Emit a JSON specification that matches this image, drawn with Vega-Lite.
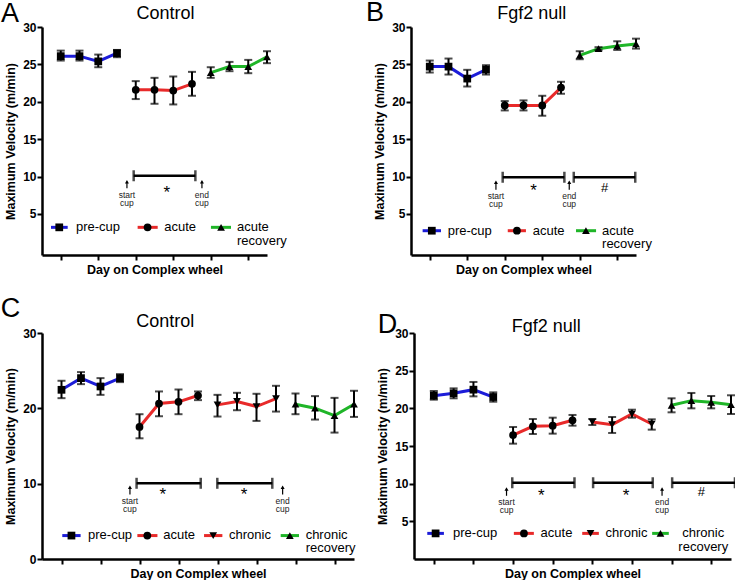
{
"$schema":"https://vega.github.io/schema/vega-lite/v6.json",
"padding":{"left":0,"top":-2,"right":0,"bottom":0},
"background":"white",
"config":{"view":{"stroke":null},"font":"Liberation Sans",
 "axis":{"domainColor":"black","domainWidth":2.5,"tickColor":"black","tickWidth":2,"tickSize":5,"labelColor":"black","titleColor":"black","labelFont":"Liberation Sans","titleFont":"Liberation Sans","labelFontWeight":"bold","titleFontWeight":"bold","labelFontSize":12,"titleFontSize":12.5,"grid":false,"labelPadding":1}},
"datasets":{
"pts":[
{"p":"A","s":"pre-cup","d":1,"v":26.1,"lo":25.51,"hi":26.84},
{"p":"A","s":"pre-cup","d":2,"v":26.1,"lo":25.51,"hi":26.84},
{"p":"A","s":"pre-cup","d":3,"v":25.4,"lo":24.62,"hi":26.31},
{"p":"A","s":"pre-cup","d":4,"v":26.5,"lo":25.96,"hi":26.93},
{"p":"A","s":"acute","d":5,"v":21.6,"lo":20.36,"hi":22.76},
{"p":"A","s":"acute","d":6,"v":21.6,"lo":19.73,"hi":23.2},
{"p":"A","s":"acute","d":7,"v":21.5,"lo":19.64,"hi":23.38},
{"p":"A","s":"acute","d":8,"v":22.4,"lo":20.8,"hi":24.0},
{"p":"A","s":"recovery","d":9,"v":23.9,"lo":23.2,"hi":24.62},
{"p":"A","s":"recovery","d":10,"v":24.7,"lo":24.09,"hi":25.33},
{"p":"A","s":"recovery","d":11,"v":24.7,"lo":23.82,"hi":25.6},
{"p":"A","s":"recovery","d":12,"v":26.0,"lo":25.16,"hi":26.76},
{"p":"B","s":"pre-cup","d":1,"v":24.7,"lo":23.91,"hi":25.51},
{"p":"B","s":"pre-cup","d":2,"v":24.7,"lo":23.64,"hi":25.78},
{"p":"B","s":"pre-cup","d":3,"v":23.1,"lo":22.04,"hi":24.27},
{"p":"B","s":"pre-cup","d":4,"v":24.3,"lo":23.64,"hi":24.89},
{"p":"B","s":"acute","d":5,"v":19.5,"lo":18.84,"hi":20.09},
{"p":"B","s":"acute","d":6,"v":19.5,"lo":18.84,"hi":20.18},
{"p":"B","s":"acute","d":7,"v":19.5,"lo":18.13,"hi":20.8},
{"p":"B","s":"acute","d":8,"v":21.9,"lo":21.07,"hi":22.67},
{"p":"B","s":"recovery","d":9,"v":26.2,"lo":25.69,"hi":26.76},
{"p":"B","s":"recovery","d":10,"v":27.1,"lo":26.9,"hi":27.3},
{"p":"B","s":"recovery","d":11,"v":27.47,"lo":26.93,"hi":28.09},
{"p":"B","s":"recovery","d":12,"v":27.73,"lo":27.11,"hi":28.44},
{"p":"C","s":"pre-cup","d":1,"v":22.46,"lo":21.35,"hi":23.66},
{"p":"C","s":"pre-cup","d":2,"v":24.01,"lo":23.21,"hi":24.81},
{"p":"C","s":"pre-cup","d":3,"v":22.9,"lo":21.79,"hi":24.01},
{"p":"C","s":"pre-cup","d":4,"v":24.01,"lo":23.48,"hi":24.54},
{"p":"C","s":"acute","d":5,"v":17.53,"lo":16.02,"hi":19.22},
{"p":"C","s":"acute","d":6,"v":20.64,"lo":18.95,"hi":22.24},
{"p":"C","s":"acute","d":7,"v":20.86,"lo":19.22,"hi":22.5},
{"p":"C","s":"acute","d":8,"v":21.7,"lo":21.09,"hi":22.24},
{"p":"C","s":"chronic","d":9,"v":20.46,"lo":18.91,"hi":21.79},
{"p":"C","s":"chronic","d":10,"v":20.91,"lo":19.75,"hi":22.06},
{"p":"C","s":"chronic","d":11,"v":20.24,"lo":18.33,"hi":21.93},
{"p":"C","s":"chronic","d":12,"v":21.3,"lo":19.57,"hi":22.99},
{"p":"C","s":"recovery","d":13,"v":20.55,"lo":19.22,"hi":21.97},
{"p":"C","s":"recovery","d":14,"v":20.02,"lo":18.51,"hi":21.62},
{"p":"C","s":"recovery","d":15,"v":19.04,"lo":16.78,"hi":21.39},
{"p":"C","s":"recovery","d":16,"v":20.55,"lo":18.86,"hi":22.33},
{"p":"D","s":"pre-cup","d":1,"v":21.68,"lo":21.15,"hi":22.3},
{"p":"D","s":"pre-cup","d":2,"v":21.99,"lo":21.33,"hi":22.65},
{"p":"D","s":"pre-cup","d":3,"v":22.48,"lo":21.59,"hi":23.5},
{"p":"D","s":"pre-cup","d":4,"v":21.5,"lo":20.88,"hi":22.12},
{"p":"D","s":"acute","d":5,"v":16.46,"lo":15.31,"hi":17.52},
{"p":"D","s":"acute","d":6,"v":17.61,"lo":16.59,"hi":18.58},
{"p":"D","s":"acute","d":7,"v":17.7,"lo":16.64,"hi":18.76},
{"p":"D","s":"acute","d":8,"v":18.41,"lo":17.7,"hi":19.12},
{"p":"D","s":"chronic","d":9,"v":18.19,"lo":17.79,"hi":18.58},
{"p":"D","s":"chronic","d":10,"v":17.83,"lo":16.73,"hi":18.85},
{"p":"D","s":"chronic","d":11,"v":19.25,"lo":18.76,"hi":19.82},
{"p":"D","s":"chronic","d":12,"v":17.92,"lo":17.17,"hi":18.54},
{"p":"D","s":"recovery","d":13,"v":20.4,"lo":19.47,"hi":21.33},
{"p":"D","s":"recovery","d":14,"v":21.02,"lo":20.0,"hi":22.04},
{"p":"D","s":"recovery","d":15,"v":20.8,"lo":20.0,"hi":21.64},
{"p":"D","s":"recovery","d":16,"v":20.49,"lo":19.25,"hi":21.73}
],
"brk":[
{"p":"A","x1":4.89,"x2":8.18,"y":10.1},
{"p":"B","x1":4.89,"x2":8.18,"y":9.9},
{"p":"B","x1":8.68,"x2":11.96,"y":9.9},
{"p":"C","x1":4.85,"x2":8.14,"y":10.05},
{"p":"C","x1":8.99,"x2":11.81,"y":10.05},
{"p":"D","x1":4.96,"x2":8.1,"y":10.12},
{"p":"D","x1":9.04,"x2":12.05,"y":10.12},
{"p":"D","x1":13.03,"x2":16.2,"y":10.12}
],
"arr":[
{"p":"A","x":4.53,"y1":9.3,"y2":8.42},
{"p":"A","x":8.53,"y1":9.3,"y2":8.42},
{"p":"B","x":4.53,"y1":9.22,"y2":8.24},
{"p":"B","x":8.44,"y1":9.22,"y2":8.24},
{"p":"C","x":4.51,"y1":9.52,"y2":8.55},
{"p":"C","x":12.34,"y1":9.52,"y2":8.55},
{"p":"D","x":4.67,"y1":9.28,"y2":8.39},
{"p":"D","x":12.52,"y1":9.28,"y2":8.39}
],
"leg":[
{"p":"A","s":"pre-cup","x1":0.48,"x2":1.37,"xm":0.92,"y":3.2},
{"p":"A","s":"acute","x1":5.1,"x2":6.17,"xm":5.63,"y":3.2},
{"p":"A","s":"recovery","x1":9.01,"x2":10.08,"xm":9.55,"y":3.2},
{"p":"B","s":"pre-cup","x1":0.62,"x2":1.6,"xm":1.11,"y":2.75},
{"p":"B","s":"acute","x1":5.16,"x2":6.13,"xm":5.65,"y":2.75},
{"p":"B","s":"recovery","x1":8.8,"x2":9.87,"xm":9.33,"y":2.75},
{"p":"C","s":"pre-cup","x1":1.04,"x2":1.98,"xm":1.51,"y":3.11},
{"p":"C","s":"acute","x1":4.89,"x2":5.92,"xm":5.4,"y":3.11},
{"p":"C","s":"chronic","x1":8.31,"x2":9.25,"xm":8.78,"y":3.11},
{"p":"C","s":"recovery","x1":12.24,"x2":13.18,"xm":12.71,"y":3.11},
{"p":"D","s":"pre-cup","x1":0.67,"x2":1.51,"xm":1.09,"y":3.4},
{"p":"D","s":"acute","x1":5.04,"x2":6.05,"xm":5.55,"y":3.4},
{"p":"D","s":"chronic","x1":8.49,"x2":9.33,"xm":8.91,"y":3.4},
{"p":"D","s":"recovery","x1":12.02,"x2":12.86,"xm":12.44,"y":3.4}
],
"txt":[
{"p":"A","k":"letter","t":"A","x":-2.19,"y":30.67},
{"p":"A","k":"title","t":"Control","x":6.59,"y":31.07},
{"p":"A","k":"star","t":"*","x":6.65,"y":7.18},
{"p":"A","k":"note","t":"start","x":4.53,"y":7.06},
{"p":"A","k":"note","t":"cup","x":4.53,"y":6.0},
{"p":"A","k":"note","t":"end","x":8.53,"y":7.06},
{"p":"A","k":"note","t":"cup","x":8.53,"y":6.0},
{"p":"A","k":"leg","t":"pre-cup","x":1.81,"y":2.7},
{"p":"A","k":"leg","t":"acute","x":6.52,"y":2.7},
{"p":"A","k":"leg","t":"acute","x":10.4,"y":2.7},
{"p":"A","k":"leg","t":"recovery","x":10.4,"y":0.9},
{"p":"B","k":"letter","t":"B","x":-2.4,"y":30.84},
{"p":"B","k":"title","t":"Fgf2 null","x":6.44,"y":31.03},
{"p":"B","k":"star","t":"*","x":6.54,"y":7.36},
{"p":"B","k":"hash","t":"#","x":10.33,"y":7.89},
{"p":"B","k":"note","t":"start","x":4.53,"y":6.99},
{"p":"B","k":"note","t":"cup","x":4.53,"y":5.88},
{"p":"B","k":"note","t":"end","x":8.44,"y":6.99},
{"p":"B","k":"note","t":"cup","x":8.44,"y":5.88},
{"p":"B","k":"leg","t":"pre-cup","x":1.96,"y":2.17},
{"p":"B","k":"leg","t":"acute","x":6.49,"y":2.17},
{"p":"B","k":"leg","t":"acute","x":10.19,"y":2.17},
{"p":"B","k":"leg","t":"recovery","x":10.19,"y":0.39},
{"p":"C","k":"letter","t":"C","x":-2.12,"y":32.19},
{"p":"C","k":"title","t":"Control","x":6.32,"y":30.86},
{"p":"C","k":"star","t":"*","x":6.2,"y":7.77},
{"p":"C","k":"star","t":"*","x":10.36,"y":7.77},
{"p":"C","k":"note","t":"start","x":4.51,"y":7.31},
{"p":"C","k":"note","t":"cup","x":4.51,"y":6.2},
{"p":"C","k":"note","t":"end","x":12.34,"y":7.31},
{"p":"C","k":"note","t":"cup","x":12.34,"y":6.2},
{"p":"C","k":"leg","t":"pre-cup","x":2.36,"y":2.62},
{"p":"C","k":"leg","t":"acute","x":6.22,"y":2.62},
{"p":"C","k":"leg","t":"chronic","x":9.59,"y":2.62},
{"p":"C","k":"leg","t":"chronic","x":13.52,"y":2.62},
{"p":"C","k":"leg","t":"recovery","x":13.52,"y":0.89},
{"p":"D","k":"letter","t":"D","x":-1.83,"y":29.96},
{"p":"D","k":"title","t":"Fgf2 null","x":6.67,"y":30.17},
{"p":"D","k":"star","t":"*","x":6.42,"y":7.66},
{"p":"D","k":"star","t":"*","x":10.7,"y":7.66},
{"p":"D","k":"hash","t":"#","x":14.5,"y":8.35},
{"p":"D","k":"note","t":"start","x":4.67,"y":7.16},
{"p":"D","k":"note","t":"cup","x":4.67,"y":6.05},
{"p":"D","k":"note","t":"end","x":12.52,"y":7.16},
{"p":"D","k":"note","t":"cup","x":12.52,"y":6.05},
{"p":"D","k":"leg","t":"pre-cup","x":1.97,"y":2.87},
{"p":"D","k":"leg","t":"acute","x":6.39,"y":2.87},
{"p":"D","k":"leg","t":"chronic","x":9.67,"y":2.87},
{"p":"D","k":"legmid","t":"chronic","x":14.6,"y":2.87},
{"p":"D","k":"legmid","t":"recovery","x":14.6,"y":1.09}
]
},
"spacing":18,
"bounds":"full",
"vconcat":[
{"hconcat":[
{"width":225,"height":228,"layer":[
{"data":{"name":"pts"},"transform":[{"filter":"datum.p==='A'"}],"mark":{"type":"line","strokeWidth":3},
 "encoding":{"x":{"field":"d","type":"quantitative","scale":{"domain":[0,12],"nice":false,"zero":false},"axis":{"values":[1,2,3,4,5,6,7,8,9,10,11,12],"labels":false,"title":"Day on Complex wheel","titlePadding":2}},
 "y":{"field":"v","type":"quantitative","scale":{"domain":[-0.5,30],"nice":false,"zero":false},"axis":{"values":[5,10,15,20,25,30],"title":"Maximum Velocity (m/min)","titlePadding":5}},
 "color":{"field":"s","type":"nominal","scale":{"domain":["pre-cup","acute","chronic","recovery"],"range":["#1c1cd8","#e82a2a","#e82a2a","#1fb528"]},"legend":null}}},
{"data":{"name":"pts"},"transform":[{"filter":"datum.p==='A'"}],"mark":{"type":"rule","color":"black","strokeWidth":2},"encoding":{"x":{"field":"d","type":"quantitative"},"y":{"field":"lo","type":"quantitative"},"y2":{"field":"hi"}}},
{"data":{"name":"pts"},"transform":[{"filter":"datum.p==='A'"}],"mark":{"type":"tick","orient":"horizontal","color":"black","size":8,"thickness":2},"encoding":{"x":{"field":"d","type":"quantitative"},"y":{"field":"lo","type":"quantitative"}}},
{"data":{"name":"pts"},"transform":[{"filter":"datum.p==='A'"}],"mark":{"type":"tick","orient":"horizontal","color":"black","size":8,"thickness":2},"encoding":{"x":{"field":"d","type":"quantitative"},"y":{"field":"hi","type":"quantitative"}}},
{"data":{"name":"pts"},"transform":[{"filter":"datum.p==='A'"}],"mark":{"type":"point","filled":true,"color":"black","opacity":1,"size":60},"encoding":{"x":{"field":"d","type":"quantitative"},"y":{"field":"v","type":"quantitative"},"shape":{"field":"s","type":"nominal","scale":{"domain":["pre-cup","acute","chronic","recovery"],"range":["square","circle","triangle-down","triangle-up"]},"legend":null}}},
{"data":{"name":"brk"},"transform":[{"filter":"datum.p==='A'"}],"mark":{"type":"rule","color":"black","strokeWidth":2.5},"encoding":{"x":{"field":"x1","type":"quantitative"},"x2":{"field":"x2"},"y":{"field":"y","type":"quantitative"}}},
{"data":{"name":"brk"},"transform":[{"filter":"datum.p==='A'"}],"mark":{"type":"tick","orient":"vertical","color":"black","size":11,"thickness":2.5},"encoding":{"x":{"field":"x1","type":"quantitative"},"y":{"field":"y","type":"quantitative"}}},
{"data":{"name":"brk"},"transform":[{"filter":"datum.p==='A'"}],"mark":{"type":"tick","orient":"vertical","color":"black","size":11,"thickness":2.5},"encoding":{"x":{"field":"x2","type":"quantitative"},"y":{"field":"y","type":"quantitative"}}},
{"data":{"name":"arr"},"transform":[{"filter":"datum.p==='A'"}],"mark":{"type":"rule","color":"black","strokeWidth":1.2},"encoding":{"x":{"field":"x","type":"quantitative"},"y":{"field":"y1","type":"quantitative"},"y2":{"field":"y2"}}},
{"data":{"name":"arr"},"transform":[{"filter":"datum.p==='A'"}],"mark":{"type":"point","shape":"triangle-up","filled":true,"color":"black","opacity":1,"size":16},"encoding":{"x":{"field":"x","type":"quantitative"},"y":{"field":"y1","type":"quantitative"}}},
{"data":{"name":"leg"},"transform":[{"filter":"datum.p==='A'"}],"mark":{"type":"rule","strokeWidth":3},"encoding":{"x":{"field":"x1","type":"quantitative"},"x2":{"field":"x2"},"y":{"field":"y","type":"quantitative"},"color":{"field":"s","type":"nominal"}}},
{"data":{"name":"leg"},"transform":[{"filter":"datum.p==='A'"}],"mark":{"type":"point","filled":true,"color":"black","opacity":1,"size":60},"encoding":{"x":{"field":"xm","type":"quantitative"},"y":{"field":"y","type":"quantitative"},"shape":{"field":"s","type":"nominal"}}},
{"data":{"name":"txt"},"transform":[{"filter":"datum.p==='A' && datum.k==='star'"}],"mark":{"type":"text","fontSize":17,"align":"center","baseline":"alphabetic","color":"black"},"encoding":{"x":{"field":"x","type":"quantitative"},"y":{"field":"y","type":"quantitative"},"text":{"field":"t"}}},
{"data":{"name":"txt"},"transform":[{"filter":"datum.p==='A' && datum.k==='note'"}],"mark":{"type":"text","fontSize":8.5,"align":"center","baseline":"alphabetic","color":"#222"},"encoding":{"x":{"field":"x","type":"quantitative"},"y":{"field":"y","type":"quantitative"},"text":{"field":"t"}}},
{"data":{"name":"txt"},"transform":[{"filter":"datum.p==='A' && datum.k==='title'"}],"mark":{"type":"text","fontSize":18,"align":"center","baseline":"alphabetic","color":"black"},"encoding":{"x":{"field":"x","type":"quantitative"},"y":{"field":"y","type":"quantitative"},"text":{"field":"t"}}},
{"data":{"name":"txt"},"transform":[{"filter":"datum.p==='A' && datum.k==='letter'"}],"mark":{"type":"text","fontSize":27,"align":"left","baseline":"alphabetic","color":"black"},"encoding":{"x":{"field":"x","type":"quantitative"},"y":{"field":"y","type":"quantitative"},"text":{"field":"t"}}},
{"data":{"name":"txt"},"transform":[{"filter":"datum.p==='A' && datum.k==='leg'"}],"mark":{"type":"text","fontSize":13,"align":"left","baseline":"alphabetic","color":"black"},"encoding":{"x":{"field":"x","type":"quantitative"},"y":{"field":"y","type":"quantitative"},"text":{"field":"t"}}}
]},
{"width":225,"height":228,"layer":[
{"data":{"name":"pts"},"transform":[{"filter":"datum.p==='B'"}],"mark":{"type":"line","strokeWidth":3},
 "encoding":{"x":{"field":"d","type":"quantitative","scale":{"domain":[0,12],"nice":false,"zero":false},"axis":{"values":[1,2,3,4,5,6,7,8,9,10,11,12],"labels":false,"title":"Day on Complex wheel","titlePadding":2}},
 "y":{"field":"v","type":"quantitative","scale":{"domain":[-0.5,30],"nice":false,"zero":false},"axis":{"values":[5,10,15,20,25,30],"title":"Maximum Velocity (m/min)","titlePadding":5}},
 "color":{"field":"s","type":"nominal","scale":{"domain":["pre-cup","acute","chronic","recovery"],"range":["#1c1cd8","#e82a2a","#e82a2a","#1fb528"]},"legend":null}}},
{"data":{"name":"pts"},"transform":[{"filter":"datum.p==='B'"}],"mark":{"type":"rule","color":"black","strokeWidth":2},"encoding":{"x":{"field":"d","type":"quantitative"},"y":{"field":"lo","type":"quantitative"},"y2":{"field":"hi"}}},
{"data":{"name":"pts"},"transform":[{"filter":"datum.p==='B'"}],"mark":{"type":"tick","orient":"horizontal","color":"black","size":8,"thickness":2},"encoding":{"x":{"field":"d","type":"quantitative"},"y":{"field":"lo","type":"quantitative"}}},
{"data":{"name":"pts"},"transform":[{"filter":"datum.p==='B'"}],"mark":{"type":"tick","orient":"horizontal","color":"black","size":8,"thickness":2},"encoding":{"x":{"field":"d","type":"quantitative"},"y":{"field":"hi","type":"quantitative"}}},
{"data":{"name":"pts"},"transform":[{"filter":"datum.p==='B'"}],"mark":{"type":"point","filled":true,"color":"black","opacity":1,"size":60},"encoding":{"x":{"field":"d","type":"quantitative"},"y":{"field":"v","type":"quantitative"},"shape":{"field":"s","type":"nominal","scale":{"domain":["pre-cup","acute","chronic","recovery"],"range":["square","circle","triangle-down","triangle-up"]},"legend":null}}},
{"data":{"name":"brk"},"transform":[{"filter":"datum.p==='B'"}],"mark":{"type":"rule","color":"black","strokeWidth":2.5},"encoding":{"x":{"field":"x1","type":"quantitative"},"x2":{"field":"x2"},"y":{"field":"y","type":"quantitative"}}},
{"data":{"name":"brk"},"transform":[{"filter":"datum.p==='B'"}],"mark":{"type":"tick","orient":"vertical","color":"black","size":11,"thickness":2.5},"encoding":{"x":{"field":"x1","type":"quantitative"},"y":{"field":"y","type":"quantitative"}}},
{"data":{"name":"brk"},"transform":[{"filter":"datum.p==='B'"}],"mark":{"type":"tick","orient":"vertical","color":"black","size":11,"thickness":2.5},"encoding":{"x":{"field":"x2","type":"quantitative"},"y":{"field":"y","type":"quantitative"}}},
{"data":{"name":"arr"},"transform":[{"filter":"datum.p==='B'"}],"mark":{"type":"rule","color":"black","strokeWidth":1.2},"encoding":{"x":{"field":"x","type":"quantitative"},"y":{"field":"y1","type":"quantitative"},"y2":{"field":"y2"}}},
{"data":{"name":"arr"},"transform":[{"filter":"datum.p==='B'"}],"mark":{"type":"point","shape":"triangle-up","filled":true,"color":"black","opacity":1,"size":16},"encoding":{"x":{"field":"x","type":"quantitative"},"y":{"field":"y1","type":"quantitative"}}},
{"data":{"name":"leg"},"transform":[{"filter":"datum.p==='B'"}],"mark":{"type":"rule","strokeWidth":3},"encoding":{"x":{"field":"x1","type":"quantitative"},"x2":{"field":"x2"},"y":{"field":"y","type":"quantitative"},"color":{"field":"s","type":"nominal"}}},
{"data":{"name":"leg"},"transform":[{"filter":"datum.p==='B'"}],"mark":{"type":"point","filled":true,"color":"black","opacity":1,"size":60},"encoding":{"x":{"field":"xm","type":"quantitative"},"y":{"field":"y","type":"quantitative"},"shape":{"field":"s","type":"nominal"}}},
{"data":{"name":"txt"},"transform":[{"filter":"datum.p==='B' && datum.k==='star'"}],"mark":{"type":"text","fontSize":17,"align":"center","baseline":"alphabetic","color":"black"},"encoding":{"x":{"field":"x","type":"quantitative"},"y":{"field":"y","type":"quantitative"},"text":{"field":"t"}}},
{"data":{"name":"txt"},"transform":[{"filter":"datum.p==='B' && datum.k==='hash'"}],"mark":{"type":"text","fontSize":13,"align":"center","baseline":"alphabetic","color":"black"},"encoding":{"x":{"field":"x","type":"quantitative"},"y":{"field":"y","type":"quantitative"},"text":{"field":"t"}}},
{"data":{"name":"txt"},"transform":[{"filter":"datum.p==='B' && datum.k==='note'"}],"mark":{"type":"text","fontSize":8.5,"align":"center","baseline":"alphabetic","color":"#222"},"encoding":{"x":{"field":"x","type":"quantitative"},"y":{"field":"y","type":"quantitative"},"text":{"field":"t"}}},
{"data":{"name":"txt"},"transform":[{"filter":"datum.p==='B' && datum.k==='title'"}],"mark":{"type":"text","fontSize":18,"align":"center","baseline":"alphabetic","color":"black"},"encoding":{"x":{"field":"x","type":"quantitative"},"y":{"field":"y","type":"quantitative"},"text":{"field":"t"}}},
{"data":{"name":"txt"},"transform":[{"filter":"datum.p==='B' && datum.k==='letter'"}],"mark":{"type":"text","fontSize":27,"align":"left","baseline":"alphabetic","color":"black"},"encoding":{"x":{"field":"x","type":"quantitative"},"y":{"field":"y","type":"quantitative"},"text":{"field":"t"}}},
{"data":{"name":"txt"},"transform":[{"filter":"datum.p==='B' && datum.k==='leg'"}],"mark":{"type":"text","fontSize":13,"align":"left","baseline":"alphabetic","color":"black"},"encoding":{"x":{"field":"x","type":"quantitative"},"y":{"field":"y","type":"quantitative"},"text":{"field":"t"}}}
]}
],"spacing":144,"bounds":"flush"},
{"hconcat":[
{"width":312,"height":226,"layer":[
{"data":{"name":"pts"},"transform":[{"filter":"datum.p==='C'"}],"mark":{"type":"line","strokeWidth":3},
 "encoding":{"x":{"field":"d","type":"quantitative","scale":{"domain":[0,16],"nice":false,"zero":false},"axis":{"values":[1,2,3,4,5,6,7,8,9,10,11,12,13,14,15,16],"labels":false,"title":"Day on Complex wheel","titlePadding":2}},
 "y":{"field":"v","type":"quantitative","scale":{"domain":[0,30],"nice":false,"zero":false},"axis":{"values":[0,5,10,15,20,25,30],"title":"Maximum Velocity (m/min)","titlePadding":5}},
 "color":{"field":"s","type":"nominal","scale":{"domain":["pre-cup","acute","chronic","recovery"],"range":["#1c1cd8","#e82a2a","#e82a2a","#1fb528"]},"legend":null}}},
{"data":{"name":"pts"},"transform":[{"filter":"datum.p==='C'"}],"mark":{"type":"rule","color":"black","strokeWidth":2},"encoding":{"x":{"field":"d","type":"quantitative"},"y":{"field":"lo","type":"quantitative"},"y2":{"field":"hi"}}},
{"data":{"name":"pts"},"transform":[{"filter":"datum.p==='C'"}],"mark":{"type":"tick","orient":"horizontal","color":"black","size":8,"thickness":2},"encoding":{"x":{"field":"d","type":"quantitative"},"y":{"field":"lo","type":"quantitative"}}},
{"data":{"name":"pts"},"transform":[{"filter":"datum.p==='C'"}],"mark":{"type":"tick","orient":"horizontal","color":"black","size":8,"thickness":2},"encoding":{"x":{"field":"d","type":"quantitative"},"y":{"field":"hi","type":"quantitative"}}},
{"data":{"name":"pts"},"transform":[{"filter":"datum.p==='C'"}],"mark":{"type":"point","filled":true,"color":"black","opacity":1,"size":60},"encoding":{"x":{"field":"d","type":"quantitative"},"y":{"field":"v","type":"quantitative"},"shape":{"field":"s","type":"nominal","scale":{"domain":["pre-cup","acute","chronic","recovery"],"range":["square","circle","triangle-down","triangle-up"]},"legend":null}}},
{"data":{"name":"brk"},"transform":[{"filter":"datum.p==='C'"}],"mark":{"type":"rule","color":"black","strokeWidth":2.5},"encoding":{"x":{"field":"x1","type":"quantitative"},"x2":{"field":"x2"},"y":{"field":"y","type":"quantitative"}}},
{"data":{"name":"brk"},"transform":[{"filter":"datum.p==='C'"}],"mark":{"type":"tick","orient":"vertical","color":"black","size":11,"thickness":2.5},"encoding":{"x":{"field":"x1","type":"quantitative"},"y":{"field":"y","type":"quantitative"}}},
{"data":{"name":"brk"},"transform":[{"filter":"datum.p==='C'"}],"mark":{"type":"tick","orient":"vertical","color":"black","size":11,"thickness":2.5},"encoding":{"x":{"field":"x2","type":"quantitative"},"y":{"field":"y","type":"quantitative"}}},
{"data":{"name":"arr"},"transform":[{"filter":"datum.p==='C'"}],"mark":{"type":"rule","color":"black","strokeWidth":1.2},"encoding":{"x":{"field":"x","type":"quantitative"},"y":{"field":"y1","type":"quantitative"},"y2":{"field":"y2"}}},
{"data":{"name":"arr"},"transform":[{"filter":"datum.p==='C'"}],"mark":{"type":"point","shape":"triangle-up","filled":true,"color":"black","opacity":1,"size":16},"encoding":{"x":{"field":"x","type":"quantitative"},"y":{"field":"y1","type":"quantitative"}}},
{"data":{"name":"leg"},"transform":[{"filter":"datum.p==='C'"}],"mark":{"type":"rule","strokeWidth":3},"encoding":{"x":{"field":"x1","type":"quantitative"},"x2":{"field":"x2"},"y":{"field":"y","type":"quantitative"},"color":{"field":"s","type":"nominal"}}},
{"data":{"name":"leg"},"transform":[{"filter":"datum.p==='C'"}],"mark":{"type":"point","filled":true,"color":"black","opacity":1,"size":60},"encoding":{"x":{"field":"xm","type":"quantitative"},"y":{"field":"y","type":"quantitative"},"shape":{"field":"s","type":"nominal"}}},
{"data":{"name":"txt"},"transform":[{"filter":"datum.p==='C' && datum.k==='star'"}],"mark":{"type":"text","fontSize":17,"align":"center","baseline":"alphabetic","color":"black"},"encoding":{"x":{"field":"x","type":"quantitative"},"y":{"field":"y","type":"quantitative"},"text":{"field":"t"}}},
{"data":{"name":"txt"},"transform":[{"filter":"datum.p==='C' && datum.k==='note'"}],"mark":{"type":"text","fontSize":8.5,"align":"center","baseline":"alphabetic","color":"#222"},"encoding":{"x":{"field":"x","type":"quantitative"},"y":{"field":"y","type":"quantitative"},"text":{"field":"t"}}},
{"data":{"name":"txt"},"transform":[{"filter":"datum.p==='C' && datum.k==='title'"}],"mark":{"type":"text","fontSize":18,"align":"center","baseline":"alphabetic","color":"black"},"encoding":{"x":{"field":"x","type":"quantitative"},"y":{"field":"y","type":"quantitative"},"text":{"field":"t"}}},
{"data":{"name":"txt"},"transform":[{"filter":"datum.p==='C' && datum.k==='letter'"}],"mark":{"type":"text","fontSize":27,"align":"left","baseline":"alphabetic","color":"black"},"encoding":{"x":{"field":"x","type":"quantitative"},"y":{"field":"y","type":"quantitative"},"text":{"field":"t"}}},
{"data":{"name":"txt"},"transform":[{"filter":"datum.p==='C' && datum.k==='leg'"}],"mark":{"type":"text","fontSize":13,"align":"left","baseline":"alphabetic","color":"black"},"encoding":{"x":{"field":"x","type":"quantitative"},"y":{"field":"y","type":"quantitative"},"text":{"field":"t"}}}
]},
{"width":317,"height":226,"layer":[
{"data":{"name":"pts"},"transform":[{"filter":"datum.p==='D'"}],"mark":{"type":"line","strokeWidth":3},
 "encoding":{"x":{"field":"d","type":"quantitative","scale":{"domain":[0,16],"nice":false,"zero":false},"axis":{"values":[1,2,3,4,5,6,7,8,9,10,11,12,13,14,15,16],"labels":false,"title":"Day on Complex wheel","titlePadding":2}},
 "y":{"field":"v","type":"quantitative","scale":{"domain":[0,30],"nice":false,"zero":false},"axis":{"values":[5,10,15,20,25,30],"title":"Maximum Velocity (m/min)","titlePadding":5}},
 "color":{"field":"s","type":"nominal","scale":{"domain":["pre-cup","acute","chronic","recovery"],"range":["#1c1cd8","#e82a2a","#e82a2a","#1fb528"]},"legend":null}}},
{"data":{"name":"pts"},"transform":[{"filter":"datum.p==='D'"}],"mark":{"type":"rule","color":"black","strokeWidth":2},"encoding":{"x":{"field":"d","type":"quantitative"},"y":{"field":"lo","type":"quantitative"},"y2":{"field":"hi"}}},
{"data":{"name":"pts"},"transform":[{"filter":"datum.p==='D'"}],"mark":{"type":"tick","orient":"horizontal","color":"black","size":8,"thickness":2},"encoding":{"x":{"field":"d","type":"quantitative"},"y":{"field":"lo","type":"quantitative"}}},
{"data":{"name":"pts"},"transform":[{"filter":"datum.p==='D'"}],"mark":{"type":"tick","orient":"horizontal","color":"black","size":8,"thickness":2},"encoding":{"x":{"field":"d","type":"quantitative"},"y":{"field":"hi","type":"quantitative"}}},
{"data":{"name":"pts"},"transform":[{"filter":"datum.p==='D'"}],"mark":{"type":"point","filled":true,"color":"black","opacity":1,"size":60},"encoding":{"x":{"field":"d","type":"quantitative"},"y":{"field":"v","type":"quantitative"},"shape":{"field":"s","type":"nominal","scale":{"domain":["pre-cup","acute","chronic","recovery"],"range":["square","circle","triangle-down","triangle-up"]},"legend":null}}},
{"data":{"name":"brk"},"transform":[{"filter":"datum.p==='D'"}],"mark":{"type":"rule","color":"black","strokeWidth":2.5},"encoding":{"x":{"field":"x1","type":"quantitative"},"x2":{"field":"x2"},"y":{"field":"y","type":"quantitative"}}},
{"data":{"name":"brk"},"transform":[{"filter":"datum.p==='D'"}],"mark":{"type":"tick","orient":"vertical","color":"black","size":11,"thickness":2.5},"encoding":{"x":{"field":"x1","type":"quantitative"},"y":{"field":"y","type":"quantitative"}}},
{"data":{"name":"brk"},"transform":[{"filter":"datum.p==='D'"}],"mark":{"type":"tick","orient":"vertical","color":"black","size":11,"thickness":2.5},"encoding":{"x":{"field":"x2","type":"quantitative"},"y":{"field":"y","type":"quantitative"}}},
{"data":{"name":"arr"},"transform":[{"filter":"datum.p==='D'"}],"mark":{"type":"rule","color":"black","strokeWidth":1.2},"encoding":{"x":{"field":"x","type":"quantitative"},"y":{"field":"y1","type":"quantitative"},"y2":{"field":"y2"}}},
{"data":{"name":"arr"},"transform":[{"filter":"datum.p==='D'"}],"mark":{"type":"point","shape":"triangle-up","filled":true,"color":"black","opacity":1,"size":16},"encoding":{"x":{"field":"x","type":"quantitative"},"y":{"field":"y1","type":"quantitative"}}},
{"data":{"name":"leg"},"transform":[{"filter":"datum.p==='D'"}],"mark":{"type":"rule","strokeWidth":3},"encoding":{"x":{"field":"x1","type":"quantitative"},"x2":{"field":"x2"},"y":{"field":"y","type":"quantitative"},"color":{"field":"s","type":"nominal"}}},
{"data":{"name":"leg"},"transform":[{"filter":"datum.p==='D'"}],"mark":{"type":"point","filled":true,"color":"black","opacity":1,"size":60},"encoding":{"x":{"field":"xm","type":"quantitative"},"y":{"field":"y","type":"quantitative"},"shape":{"field":"s","type":"nominal"}}},
{"data":{"name":"txt"},"transform":[{"filter":"datum.p==='D' && datum.k==='star'"}],"mark":{"type":"text","fontSize":17,"align":"center","baseline":"alphabetic","color":"black"},"encoding":{"x":{"field":"x","type":"quantitative"},"y":{"field":"y","type":"quantitative"},"text":{"field":"t"}}},
{"data":{"name":"txt"},"transform":[{"filter":"datum.p==='D' && datum.k==='hash'"}],"mark":{"type":"text","fontSize":13,"align":"center","baseline":"alphabetic","color":"black"},"encoding":{"x":{"field":"x","type":"quantitative"},"y":{"field":"y","type":"quantitative"},"text":{"field":"t"}}},
{"data":{"name":"txt"},"transform":[{"filter":"datum.p==='D' && datum.k==='note'"}],"mark":{"type":"text","fontSize":8.5,"align":"center","baseline":"alphabetic","color":"#222"},"encoding":{"x":{"field":"x","type":"quantitative"},"y":{"field":"y","type":"quantitative"},"text":{"field":"t"}}},
{"data":{"name":"txt"},"transform":[{"filter":"datum.p==='D' && datum.k==='title'"}],"mark":{"type":"text","fontSize":18,"align":"center","baseline":"alphabetic","color":"black"},"encoding":{"x":{"field":"x","type":"quantitative"},"y":{"field":"y","type":"quantitative"},"text":{"field":"t"}}},
{"data":{"name":"txt"},"transform":[{"filter":"datum.p==='D' && datum.k==='letter'"}],"mark":{"type":"text","fontSize":27,"align":"left","baseline":"alphabetic","color":"black"},"encoding":{"x":{"field":"x","type":"quantitative"},"y":{"field":"y","type":"quantitative"},"text":{"field":"t"}}},
{"data":{"name":"txt"},"transform":[{"filter":"datum.p==='D' && datum.k==='leg'"}],"mark":{"type":"text","fontSize":13,"align":"left","baseline":"alphabetic","color":"black"},"encoding":{"x":{"field":"x","type":"quantitative"},"y":{"field":"y","type":"quantitative"},"text":{"field":"t"}}},
{"data":{"name":"txt"},"transform":[{"filter":"datum.p==='D' && datum.k==='legmid'"}],"mark":{"type":"text","fontSize":13,"align":"center","baseline":"alphabetic","color":"black"},"encoding":{"x":{"field":"x","type":"quantitative"},"y":{"field":"y","type":"quantitative"},"text":{"field":"t"}}}
]}
],"spacing":60,"bounds":"flush"}
]
}
